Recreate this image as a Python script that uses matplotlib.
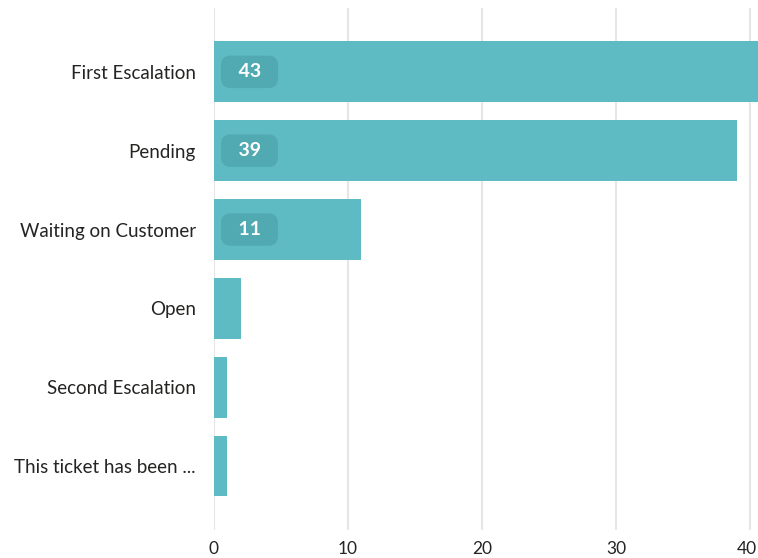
import matplotlib.pyplot as plt
import matplotlib.transforms as mtransforms

# data
categories = ['First Escalation', 'Pending', 'Waiting on Customer',
              'Open', 'Second Escalation', 'This ticket has been ...']
counts = [43, 39, 11, 2, 1, 1]
labeled = [True, True, True, False, False, False]
xticks = [0, 10, 20, 30, 40]

plt.rcParams['font.family'] = ['Lato', 'DejaVu Sans']

fig = plt.figure(figsize=(7.58, 5.58), dpi=100)
ax = fig.add_axes([0.2823, 0.0502, 0.7177, 0.9355])

ypos = list(range(len(categories)))
ax.barh(ypos, counts, height=0.77, color='#5fbbc3', zorder=2)

# value badges inside bars
for y, v, show in zip(ypos, counts, labeled):
    if show:
        ax.text(2.65, y, f'  {v}  ', ha='center', va='center', color='white',
                fontsize=14, fontweight='bold', zorder=3,
                bbox=dict(boxstyle='round,pad=0.4,rounding_size=0.5',
                          fc='#50a9b1', ec='none', alpha=0.9))

ax.set_xlim(0, 40.6)
ax.set_ylim(5.81, -0.81)
ax.set_yticks(ypos)
ax.set_yticklabels(categories, fontsize=13.5, color='#252423')
ax.set_xticks(xticks)
ax.set_xticklabels([str(t) for t in xticks], fontsize=12.5, color='#252423')
ax.tick_params(axis='both', length=0)
ax.tick_params(axis='y', pad=13)
ax.tick_params(axis='x', pad=8)
ax.grid(axis='x', color='#e6e6e6', linewidth=1.5, zorder=0)
for s in ax.spines.values():
    s.set_visible(False)

# nudge the last tick label so it stays inside the figure edge
last = ax.get_xticklabels()[-1]
last.set_transform(last.get_transform() +
                   mtransforms.ScaledTranslation(-2 / 72, 0, fig.dpi_scale_trans))

fig.savefig('out.png', dpi=100)
